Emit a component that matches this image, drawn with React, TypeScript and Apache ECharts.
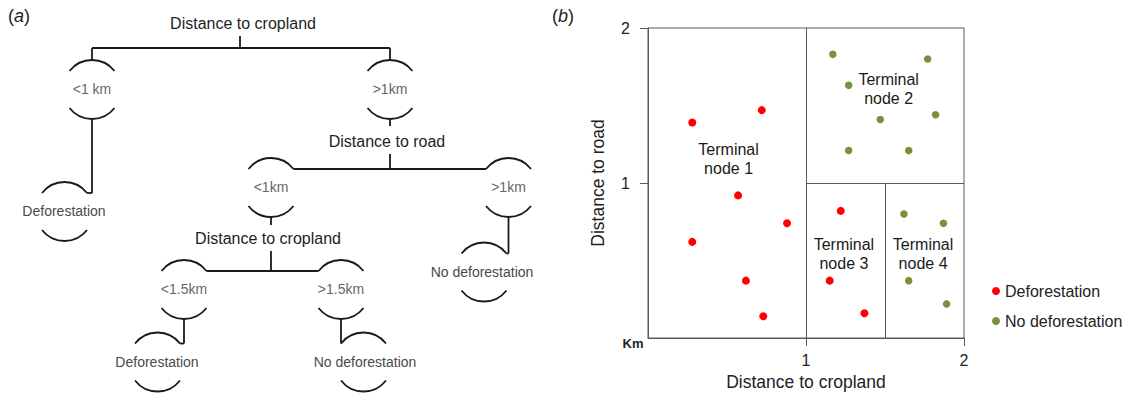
import React, { useEffect, useRef } from "react";
import * as echarts from "echarts";

// ---------------- DATA ----------------
// Panel (a): decision tree
const SPLIT_VARIABLES = ["Distance to cropland", "Distance to road", "Distance to cropland"];
const BRANCH_CONDITIONS = ["<1 km", ">1km", "<1km", ">1km", "<1.5km", ">1.5km"];
const LEAF_CLASSES = ["Deforestation", "No deforestation", "Deforestation", "No deforestation"];

// Panel (b): observations (km)
const DEFOR_CROPLAND = [0.28, 0.72, 0.57, 0.88, 0.28, 0.62, 0.73, 1.22, 1.15, 1.37];
const DEFOR_ROAD = [1.39, 1.47, 0.92, 0.74, 0.62, 0.37, 0.14, 0.82, 0.37, 0.16];
const NODEFOR_CROPLAND = [1.17, 1.27, 1.27, 1.77, 1.47, 1.82, 1.65, 1.62, 1.87, 1.65, 1.89];
const NODEFOR_ROAD = [1.83, 1.63, 1.21, 1.8, 1.41, 1.44, 1.21, 0.8, 0.74, 0.37, 0.22];
const CROPLAND_SPLIT_1 = 1;
const ROAD_SPLIT = 1;
const CROPLAND_SPLIT_2 = 1.5;
const AXIS_TICKS = [1, 2];
const TERMINAL_NODES = ["Terminal\nnode 1", "Terminal\nnode 2", "Terminal\nnode 3", "Terminal\nnode 4"];
const SERIES_NAMES = ["Deforestation", "No deforestation"];

// ---------------- LAYOUT / STYLE ----------------
const FONT = "'Liberation Sans', Arial, Helvetica, sans-serif";
const INK = "#1a1a1a";
const BOX = "#595959";
const LW = 1.8;
const R = 28.5;
const HALF = Math.asin(22.5 / R);

const SPLIT_LAYOUT = [
  { tx: 243, ty: 23, stemX: 240, barY: 48, barL: 92, barR: 390 },
  { tx: 387, ty: 141, stemX: 390, barY: 169, barL: 293.5, barR: 486 },
  { tx: 268, ty: 238, stemX: 271, barY: 271, barL: 206.5, barR: 318.5 },
];
const BRANCH_LAYOUT = [
  { cx: 92, u: 71, fromBar: 48, toSplit: 0 },
  { cx: 390, u: 71, fromBar: 48, toSplit: 126 },
  { cx: 271, u: 169, fromBar: 0, toSplit: 225 },
  { cx: 508.5, u: 169, fromBar: 0, toSplit: 0 },
  { cx: 184, u: 271, fromBar: 0, toSplit: 0 },
  { cx: 341, u: 271, fromBar: 0, toSplit: 0 },
];
const LEAF_LAYOUT = [
  { cx: 64.5, u: 193, tx: 64, fromX: 92, fromY: 119 },
  { cx: 484, u: 253.5, tx: 482, fromX: 508.5, fromY: 217 },
  { cx: 157.5, u: 343.5, tx: 157, fromX: 184, fromY: 319 },
  { cx: 363.5, u: 343.5, tx: 365, fromX: 341, fromY: 319 },
];
const NODE_LABEL_AT = [
  [0.51, 1.154],
  [1.523, 1.605],
  [1.24, 0.544],
  [1.741, 0.544],
];

function buildTree(): any[] {
  const els: any[] = [];
  const line = (x1: number, y1: number, x2: number, y2: number) =>
    els.push({ type: "line", silent: true, shape: { x1, y1, x2, y2 }, style: { stroke: INK, lineWidth: LW } });
  const arc = (cx: number, endY: number, up: boolean) =>
    els.push({
      type: "arc",
      silent: true,
      shape: up
        ? { cx, cy: endY + 17.5, r: R, startAngle: -Math.PI / 2 - HALF, endAngle: -Math.PI / 2 + HALF, clockwise: true }
        : { cx, cy: endY - 17.5, r: R, startAngle: Math.PI / 2 - HALF, endAngle: Math.PI / 2 + HALF, clockwise: true },
      style: { stroke: INK, lineWidth: LW, fill: "none" },
    });
  const text = (t: string, x: number, y: number, size: number, color: string) =>
    els.push({
      type: "text",
      silent: true,
      x,
      y,
      style: { text: t, fill: color, fontSize: size, fontFamily: FONT, align: "center", verticalAlign: "middle" },
    });
  const oval = (cx: number, u: number, label: string, tx: number, size: number, color: string) => {
    arc(cx, u, true);
    text(label, tx, u + 18, size, color);
    arc(cx, u + 37, false);
  };

  SPLIT_LAYOUT.forEach((s, i) => {
    text(SPLIT_VARIABLES[i], s.tx, s.ty, 16, "#1e1e1e");
    line(s.stemX, s.ty + 13, s.stemX, s.barY);
    line(s.barL, s.barY, s.barR, s.barY);
  });
  BRANCH_LAYOUT.forEach((b, i) => {
    oval(b.cx, b.u, BRANCH_CONDITIONS[i], b.cx, 14, "#666666");
    if (b.fromBar) line(b.cx, b.fromBar, b.cx, b.u - 11);
    if (b.toSplit) line(b.cx, b.u + 48, b.cx, b.toSplit);
  });
  LEAF_LAYOUT.forEach((l, i) => {
    line(l.fromX, l.fromY, l.fromX, l.u);
    const end = l.fromX > l.cx ? l.cx + 22.5 : l.cx - 22.5;
    if (Math.abs(end - l.fromX) > 0.5) line(end, l.u, l.fromX, l.u);
    oval(l.cx, l.u, LEAF_CLASSES[i], l.tx, 14, "#4a4a4a");
  });

  const panelLabel = (letter: string, x: number) =>
    els.push({
      type: "text",
      silent: true,
      x,
      y: 16,
      style: {
        text: "({i|" + letter + "})",
        fill: "#222",
        fontSize: 18,
        fontFamily: FONT,
        verticalAlign: "middle",
        rich: { i: { fontStyle: "italic", fontSize: 18, fontFamily: FONT, fill: "#222" } },
      },
    });
  panelLabel("a", 8);
  panelLabel("b", 552);
  els.push({
    type: "text",
    silent: true,
    x: 633,
    y: 343,
    style: { text: "Km", fill: "#222", fontSize: 13, fontWeight: "bold", fontFamily: FONT, align: "center", verticalAlign: "middle" },
  });
  return els;
}

export default function App() {
  const ref = useRef<HTMLDivElement>(null);
  useEffect(() => {
    if (!ref.current) return;
    const chart = echarts.init(ref.current, null, { renderer: "svg" });
    const axisCommon = {
      type: "value" as const,
      min: 0,
      max: 2,
      interval: 1,
      axisLine: { show: true, lineStyle: { color: BOX, width: 1 } },
      axisTick: { show: true, length: 8, customValues: AXIS_TICKS, lineStyle: { color: BOX, width: 1 } },
      splitLine: { show: false },
      nameLocation: "middle" as const,
      nameTextStyle: { fontSize: 17.5, color: "#222", fontFamily: FONT },
    };
    chart.setOption({
      animation: false,
      textStyle: { fontFamily: FONT },
      grid: {
        left: 648,
        top: 28,
        width: 316,
        height: 310,
        show: true,
        borderColor: BOX,
        borderWidth: 1,
        backgroundColor: "transparent",
        containLabel: false,
        outerBoundsMode: "none",
      },
      xAxis: {
        ...axisCommon,
        name: "Distance to cropland",
        nameGap: 32,
        axisLabel: { customValues: AXIS_TICKS, fontSize: 16, color: "#222", margin: 14, fontFamily: FONT },
      },
      yAxis: {
        ...axisCommon,
        name: "Distance to road",
        nameGap: 41,
        axisLabel: { customValues: AXIS_TICKS, fontSize: 16, color: "#222", margin: 18, fontFamily: FONT },
      },
      legend: {
        data: SERIES_NAMES.map((n) => ({ name: n, icon: "circle" })),
        orient: "vertical",
        left: 987,
        top: 278,
        itemWidth: 8,
        itemHeight: 8,
        itemGap: 14,
        textStyle: { fontSize: 16, color: "#222", fontFamily: FONT },
        selectedMode: false,
      },
      graphic: { elements: buildTree() },
      series: [
        {
          name: SERIES_NAMES[0],
          type: "scatter",
          symbol: "circle",
          symbolSize: 8,
          itemStyle: { color: "#ff0000", opacity: 1 },
          data: DEFOR_CROPLAND.map((x, i) => [x, DEFOR_ROAD[i]]),
          markLine: {
            silent: true,
            symbol: ["none", "none"],
            label: { show: false },
            lineStyle: { color: BOX, width: 1, type: "solid" },
            emphasis: { disabled: true },
            data: [
              [{ coord: [CROPLAND_SPLIT_1, 0] }, { coord: [CROPLAND_SPLIT_1, 2] }],
              [{ coord: [CROPLAND_SPLIT_1, ROAD_SPLIT] }, { coord: [2, ROAD_SPLIT] }],
              [{ coord: [CROPLAND_SPLIT_2, 0] }, { coord: [CROPLAND_SPLIT_2, ROAD_SPLIT] }],
            ],
          },
        },
        {
          name: SERIES_NAMES[1],
          type: "scatter",
          symbol: "circle",
          symbolSize: 7.5,
          itemStyle: { color: "#76923c", opacity: 1 },
          data: NODEFOR_CROPLAND.map((x, i) => [x, NODEFOR_ROAD[i]]),
        },
        {
          name: "Terminal nodes",
          type: "scatter",
          silent: true,
          symbol: "circle",
          symbolSize: 1,
          itemStyle: { color: "#ffffff", opacity: 0 },
          data: NODE_LABEL_AT.map((p, i) => ({ value: [p[0], p[1]], name: TERMINAL_NODES[i] })),
          label: {
            show: true,
            position: "inside",
            formatter: (p: any) => p.name,
            fontSize: 16,
            lineHeight: 19,
            color: "#1a1a1a",
            opacity: 1,
            textBorderWidth: 0,
            textBorderColor: "transparent",
            fontFamily: FONT,
          },
        },
      ],
    });
    return () => chart.dispose();
  }, []);
  return <div ref={ref} style={{ position: "absolute", left: 0, top: 0, width: 1138, height: 395 }} />;
}
